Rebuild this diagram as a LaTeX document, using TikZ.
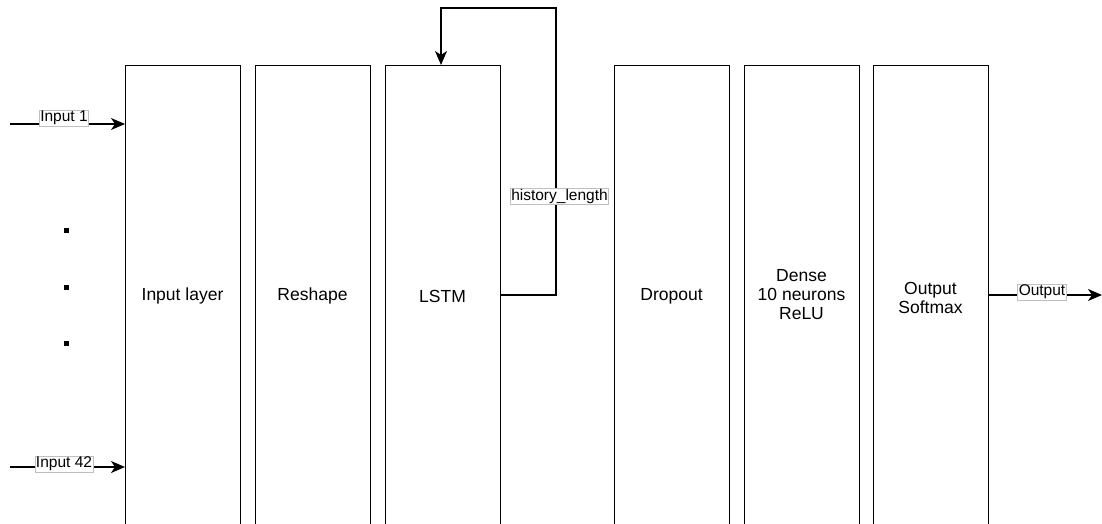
\documentclass[tikz,border=0pt]{standalone}
\usepackage{fontspec}
\setmainfont{Liberation Sans}
\usetikzlibrary{arrows.meta}
\begin{document}
\begin{tikzpicture}[x=1pt,y=-1pt,
  layer/.style={draw=black,line width=1.4pt,fill=white,minimum width=115pt,minimum height=480pt,anchor=north west,inner sep=0pt},
  ltext/.style={font=\fontsize{17.5}{19}\selectfont,align=center},
  lab/.style={draw=black!25,line width=0.6pt,fill=white,inner sep=1pt,font=\fontsize{15.5}{17}\selectfont},
  conn/.style={line width=1.4pt,-{Stealth[length=14pt,width=12pt,inset=4pt]}},
  dot/.style={fill=black,minimum size=5pt,inner sep=0pt}]
\useasboundingbox (0,0) rectangle (1102,524);
\clip (0,0) rectangle (1102,524);
\node[layer] (inp) at (125,65) {};
\node[layer] (resh) at (255,65) {};
\node[layer] (lstm) at (385,65) {};
\node[layer] (drop) at (614,65) {};
\node[layer] (dense) at (744,65) {};
\node[layer] (outl) at (873,65) {};
\node[ltext] (tinp) at (182.5,296) {Input layer};
\node[ltext] (tresh) at (312.5,296) {Reshape};
\node[ltext] (tlstm) at (442.5,296) {LSTM};
\node[ltext] (tdrop) at (671.5,296) {Dropout};
\node[ltext] (tdense) at (801.5,295) {Dense\\10 neurons\\ReLU};
\node[ltext] (tout) at (930.5,298) {Output\\Softmax};
% inputs
\coordinate (s1) at (10,124);
\coordinate (e1) at (125,124);
\draw[conn] (s1) -- (e1);
\node[lab] (l1) at (64,118) {Input 1};
\coordinate (s42) at (10,467);
\coordinate (e42) at (125,467);
\draw[conn] (s42) -- (e42);
\node[lab] (l42) at (64,464) {Input 42};
% dots
\node[dot] (d1) at (66,230) {};
\node[dot] (d2) at (66,287) {};
\node[dot] (d3) at (66,343) {};
% loop
\coordinate (lo) at (500,295);
\coordinate (li) at (441,65);
\draw[conn] (lo) -- (556,295) -- (556,8) -- (441,8) -- (li);
\node[lab] (lh) at (559.5,196.5) {history\_length};
% output
\coordinate (os) at (988,295);
\coordinate (oe) at (1102,295);
\draw[conn] (os) -- (oe);
\node[lab] (lo2) at (1042,292) {Output};
\end{tikzpicture}
\end{document}
